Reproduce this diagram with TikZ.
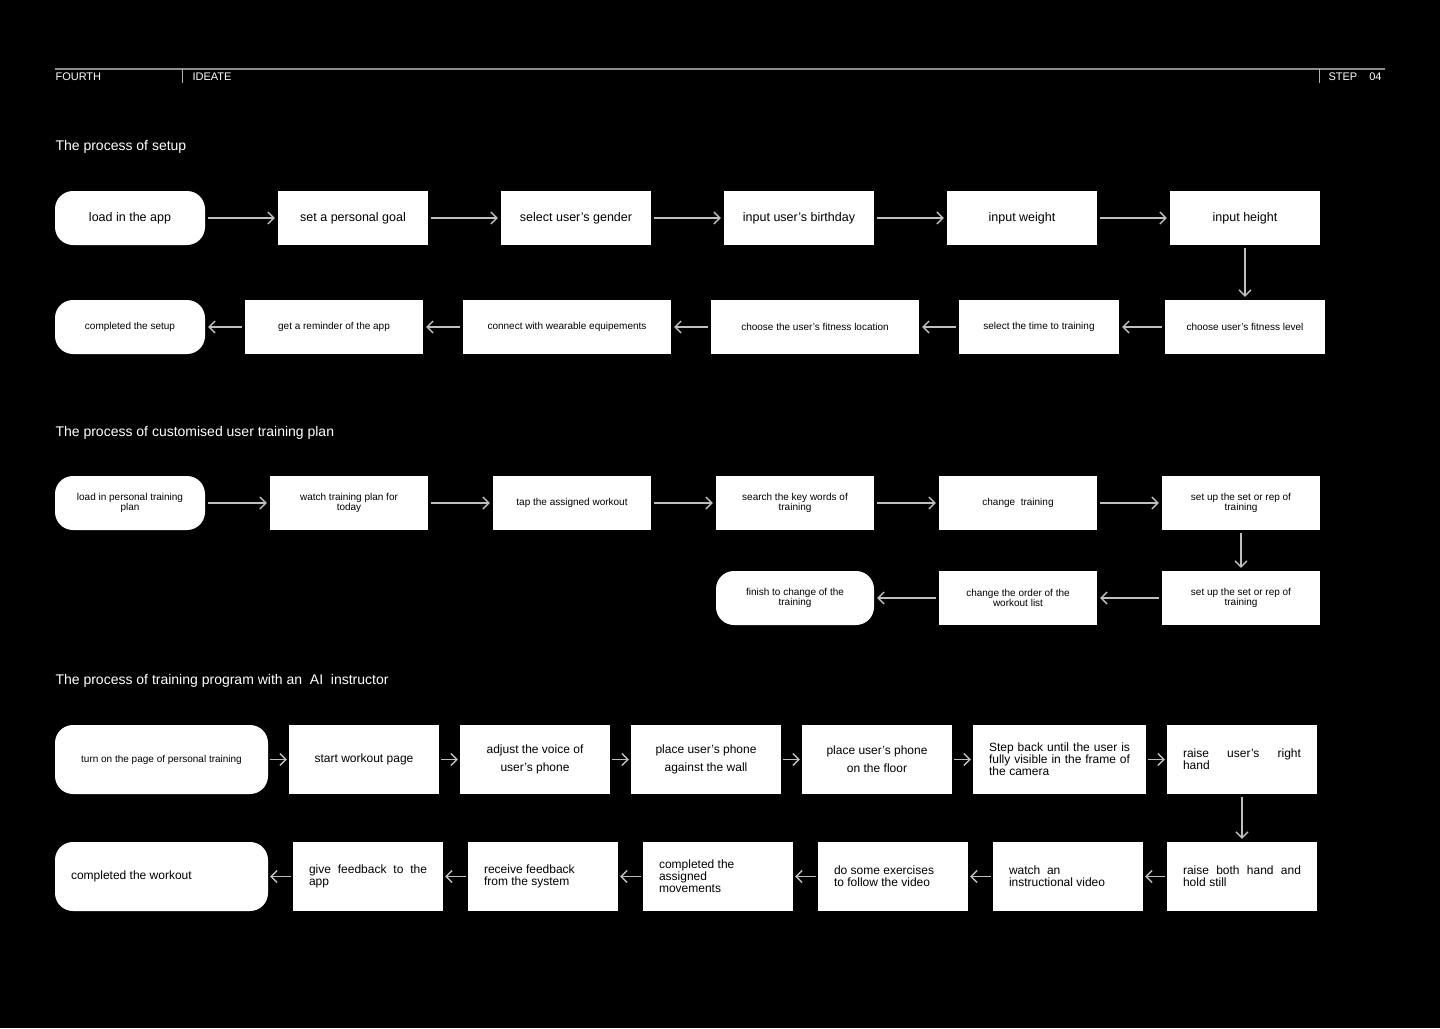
\documentclass[tikz,border=0pt]{standalone}
\usepackage{fontspec}
\setmainfont{Liberation Sans}
\usetikzlibrary{arrows.meta}
\begin{document}
\begin{tikzpicture}[x=1pt,y=-1pt,
  box/.style={fill=white,draw=none,inner sep=2pt,align=center,text=black},
  rbox/.style={box,rounded corners=18pt},
  arr/.style={draw=white!75!black,line width=1.3pt,-{Straight Barb[length=6pt,width=12pt]},shorten <=3pt,shorten >=3pt},
  ttl/.style={anchor=west,text=white,font=\fontsize{14}{16}\selectfont},
  hd/.style={anchor=west,text=white,font=\fontsize{11}{12}\selectfont}]
\fill[black] (0,0) rectangle (1440,1028);
\useasboundingbox (0,0) rectangle (1440,1028);
% header
\draw[white!55!black,line width=1.5pt] (55,69) -- (1385,69);
\draw[white!70!black,line width=0.8pt] (182,69) -- (182,83) (1319,69) -- (1319,83);
\node[hd] (h1) at (52,77) {FOURTH};
\node[hd] (h2) at (189,77) {IDEATE};
\node[hd] (h3) at (1325,77) {STEP\hspace{1.1em}04};
% titles
\node[ttl] (t1) at (52,147) {The process of setup};
\node[ttl] (t2) at (52,433) {The process of customised user training plan};
\node[ttl] (t3) at (52,681) {The process of training program with an\ \ AI\ \ instructor};
% helper
\newcommand\bx[7]{\node[#1,minimum width=#4-#3,minimum height=#6,font=\fontsize{#7}{#7}\selectfont] (#2) at ({(#3+#4)/2},#5)}
% row1
\bx{rbox}{a1}{55}{205}{218}{54}{12.5}{load in the app};
\bx{box}{a2}{278}{428}{218}{54}{12.5}{set a personal goal};
\bx{box}{a3}{501}{651}{218}{54}{12.5}{select user’s gender};
\bx{box}{a4}{724}{874}{218}{54}{12.5}{input user’s birthday};
\bx{box}{a5}{947}{1097}{218}{54}{12.5}{input weight};
\bx{box}{a6}{1170}{1320}{218}{54}{12.5}{input height};
% row2
\bx{rbox}{b1}{55}{205}{327}{54}{10}{completed the setup};
\bx{box}{b2}{245}{423}{327}{54}{10}{get a reminder of the app};
\bx{box}{b3}{463}{671}{327}{54}{10}{connect with wearable equipements};
\bx{box}{b4}{711}{919}{327}{54}{10}{choose the user’s fitness location};
\bx{box}{b5}{959}{1119}{327}{54}{10}{select the time to training};
\bx{box}{b6}{1165}{1325}{327}{54}{10}{choose user’s fitness level};
\foreach \i/\j in {a1/a2,a2/a3,a3/a4,a4/a5,a5/a6,b6/b5,b5/b4,b4/b3,b3/b2,b2/b1} \draw[arr] (\i) -- (\j);
\draw[arr] (a6.south -| 1245,0) -- (b6.north -| 1245,0);
% row3
\bx{rbox}{c1}{55}{205}{503}{54}{10}{load in personal training\\plan};
\bx{box}{c2}{270}{428}{503}{54}{10}{watch training plan for\\today};
\bx{box}{c3}{493}{651}{503}{54}{10}{tap the assigned workout};
\bx{box}{c4}{716}{874}{503}{54}{10}{search the key words of\\training};
\bx{box}{c5}{939}{1097}{503}{54}{10}{change\ \ training};
\bx{box}{c6}{1162}{1320}{503}{54}{10}{set up the set or rep of\\training};
\bx{rbox}{d1}{716}{874}{598}{54}{10}{finish to change of the\\training};
\bx{box}{d2}{939}{1097}{598}{54}{10}{change the order of the\\workout list};
\bx{box}{d3}{1162}{1320}{598}{54}{10}{set up the set or rep of\\training};
\foreach \i/\j in {c1/c2,c2/c3,c3/c4,c4/c5,c5/c6,d3/d2,d2/d1} \draw[arr] (\i) -- (\j);
\draw[arr] (c6) -- (d3);
% row5
\bx{rbox}{e1}{55}{268}{759.5}{69}{10}{turn on the page of personal training};
\bx{box}{e2}{289}{439}{759.5}{69}{12}{start workout page};
\bx{box}{e3}{460}{610}{759.5}{69}{12}{adjust the voice of\\[6pt]user’s phone};
\bx{box}{e4}{631}{781}{759.5}{69}{12}{place user’s phone\\[6pt]against the wall};
\bx{box}{e5}{802}{952}{759.5}{69}{12}{place user’s phone\\[6pt]on the floor};
\bx{box}{e6}{973}{1146}{759.5}{69}{12}{\parbox{141pt}{\fontsize{12}{12}\selectfont\spaceskip=0.3em plus 1em Step back until the user is fully visible in the frame of the camera}};
\bx{box}{e7}{1167}{1317}{759.5}{69}{12}{\parbox{118pt}{\fontsize{12}{12}\selectfont\spaceskip=0.3em plus 3em raise user’s right hand}};
% row6
\bx{rbox}{f1}{55}{268}{876.5}{69}{12}{\parbox{181pt}{completed the workout}};
\bx{box}{f2}{293}{443}{876.5}{69}{12}{\parbox{118pt}{\fontsize{12}{12}\selectfont give feedback to the app}};
\bx{box}{f3}{468}{618}{876.5}{69}{12}{\parbox{118pt}{\fontsize{12}{12}\selectfont receive feedback\\from the system}};
\bx{box}{f4}{643}{793}{876.5}{69}{12}{\parbox{118pt}{\fontsize{12}{12}\selectfont completed the\\assigned\\movements}};
\bx{box}{f5}{818}{968}{876.5}{69}{12}{\parbox{118pt}{\fontsize{12}{12}\selectfont do some exercises\\to follow the video}};
\bx{box}{f6}{993}{1143}{876.5}{69}{12}{\parbox{118pt}{\fontsize{12}{12}\selectfont watch\ \ an\\instructional video}};
\bx{box}{f7}{1167}{1317}{876.5}{69}{12}{\parbox{118pt}{\fontsize{12}{12}\selectfont\spaceskip=0.3em plus 3em raise both hand and hold still}};
\foreach \i/\j in {e1/e2,e2/e3,e3/e4,e4/e5,e5/e6,e6/e7,f7/f6,f6/f5,f5/f4,f4/f3,f3/f2,f2/f1} \draw[arr,shorten <=2pt,shorten >=2pt] (\i) -- (\j);
\draw[arr] (e7) -- (f7);
\end{tikzpicture}
\end{document}
